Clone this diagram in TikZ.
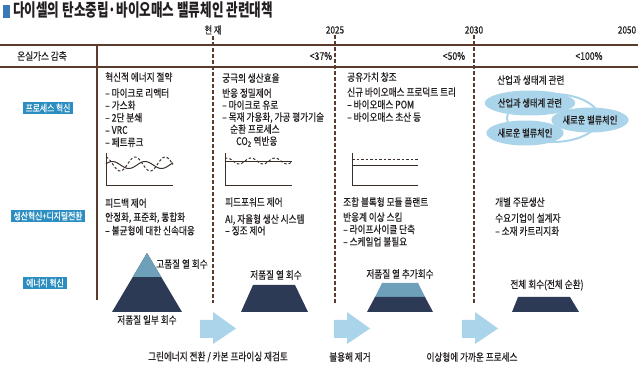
\documentclass[tikz,border=0pt]{standalone}
\usepackage{fontspec}
\setmainfont{Noto Sans CJK KR}[FakeStretch=0.82, FakeBold=0.5]
\newfontfamily\titlefont{Noto Sans CJK KR}[FakeStretch=0.72]
\usepackage{tikz}
\usetikzlibrary{shapes.geometric, positioning}
\definecolor{dsbrown}{HTML}{5A3B2C}
\definecolor{dsblue}{HTML}{2B8DC0}
\definecolor{dsmark}{HTML}{3B78B8}
\definecolor{dsnavy}{HTML}{2C3A56}
\definecolor{dssteel}{HTML}{6FA0BA}
\definecolor{dspale}{HTML}{A9D4E9}
\definecolor{dstext}{HTML}{231F20}
\definecolor{dsaxis}{HTML}{3B2F2A}

\begin{document}
\begin{tikzpicture}[
  x=1pt, y=-1pt,
  txt/.style={anchor=base west, inner sep=0pt, align=left, text=dstext,
              font=\fontsize{10.5}{12.5}\selectfont},
  lbl/.style={inner sep=0pt, text=dstext,
              font=\fontsize{10.5}{12.5}\selectfont},
  rowbox/.style={fill=dsblue, text=white, inner xsep=3pt, inner ysep=0pt,
                 minimum height=12pt, font=\fontsize{9.5}{11}\selectfont},
  yr/.style={inner sep=1.5pt, text=dstext, font=\fontsize{10}{12}\selectfont},
  yrline/.style={dsbrown, line width=1.3pt, dash pattern=on 3.5pt off 2.5pt},
  rule/.style={dsbrown, line width=1.6pt},
  axis/.style={dsaxis, line width=1pt},
  bubble/.style={ellipse, fill=dspale, minimum width=72pt, minimum height=25pt,
                 inner sep=0pt, text=dstext, font=\fontsize{10}{12}\selectfont},
  blkarr/.style={fill=dspale}
]
  \useasboundingbox (0,0) rectangle (638,374);

  \fill[dsmark] (3,5) rectangle (10,18);
  \node[anchor=base west, inner sep=0pt, text=dstext,
        font=\titlefont\fontsize{17.5}{19}\selectfont\bfseries] (title) at (13,17)
    {다이셀의 탄소중립·바이오매스 밸류체인 관련대책};

  \node[yr] (now) at (213,30) {현 재};
  \node[yr] (y25) at (335,30) {2025};
  \node[yr] (y30) at (474,30) {2030};
  \node[yr] (y50) at (627,30) {2050};

  \draw[rule] (0,45) -- (638,45);
  \draw[rule] (0,67) -- (638,67);
  \coordinate (colsep top) at (97,45);
  \coordinate (colsep end) at (97,300);
  \draw[rule] (colsep top) -- (colsep end);

  \foreach \yn/\xx in {now/213, y25/335, y30/474} {
    \coordinate (\yn end) at (\xx,303);
    \draw[yrline] (\yn.south) -- (\yn end);
  }

  \node[lbl] (ghg) at (42,56) {온실가스 감축};
  \node[lbl] (p37) at (321,56) {<37\%};
  \node[lbl] (p50) at (454,56) {<50\%};
  \node[lbl] (p100) at (589,56) {<100\%};

  \node[rowbox] (process) at (48,108) {프로세스 혁신};
  \node[rowbox] (digital) at (48,216) {생산혁신+디지털전환};
  \node[rowbox] (energy) at (45,283) {에너지 혁신};

  % process row
  \node[txt] (c1head) at (105,81) {혁신적 에너지 절약};
  \node[txt, font=\fontsize{10.5}{12.3}\selectfont] (c1list) at (105,146.2)
    {– 마이크로 리액터\\– 가스화\\– 2단 분쇄\\– VRC\\– 페트류크};
  \node[txt] (c2head) at (222,82) {궁극의 생산효율};
  \node[txt, font=\fontsize{10.5}{12}\selectfont] (c2list) at (222,145)
    {반응 정밀제어\\– 마이크로 유로\\– 목재 가용화, 가공 평가기술\\
     \hspace*{8pt}순환 프로세스\\\hspace*{14pt}CO\textsubscript{2} 역반응};
  \node[txt] (c3head) at (347,81) {공유가치 창조};
  \node[txt, font=\fontsize{10.5}{12.5}\selectfont] (c3list) at (347,121)
    {신규 바이오매스 프로덕트 트리\\– 바이오매스 POM\\– 바이오매스 초산 등};
  \node[txt] (c4head) at (497,84) {산업과 생태계 관련};

  \draw[dspale, line width=2pt] (553,118) ellipse [x radius=46pt, y radius=24pt];
  \node[bubble] (eco) at (530,103) {산업과 생태계 관련};
  \node[bubble] (chain a) at (590,120) {새로운 밸류체인};
  \node[bubble] (chain b) at (525,133) {새로운 밸류체인};

  % small graphs
  \draw[axis] (106,153) -- (106,186) -- (173,186);
  \draw[axis] plot[domain=106:173, samples=60, smooth]
    (\x, {165-3.5*sin(11*(\x-106)+20)});
  \draw[axis, dash pattern=on 2.5pt off 2pt] plot[domain=106:173, samples=60, smooth]
    (\x, {164-7*sin(12*(\x-106)+100)});
  \draw[axis] (225,153) -- (225,186) -- (292,186);
  \draw[axis] (225,162) -- (292,162);
  \draw[axis, dash pattern=on 2.5pt off 2pt] plot[domain=225:292, samples=50, smooth]
    (\x, {161-3*sin(15*(\x-225)+60)});
  \draw[axis] (352,153) -- (352,186) -- (418,186);
  \draw[axis] (352,166) -- (418,166);
  \draw[axis, dash pattern=on 2.5pt off 2pt] (352,160) -- (418,160);

  % digital row
  \node[txt] (c1ctl) at (105,207) {피드백 제어};
  \node[txt, font=\fontsize{10.5}{13.5}\selectfont] (c1dig) at (105,234.5)
    {안정화, 표준화, 통합화\\– 불균형에 대한 신속대응};
  \node[txt] (c2ctl) at (225,206) {피드포워드 제어};
  \node[txt, font=\fontsize{10.5}{11.5}\selectfont] (c2dig) at (225,234.5)
    {AI, 자율형 생산 시스템\\– 징조 제어};
  \node[txt] (c3ctl) at (343,206) {조합 블록형 모듈 플랜트};
  \node[txt, font=\fontsize{10.5}{12.3}\selectfont] (c3dig) at (343,245.6)
    {반응계 이상 스킴\\– 라이프사이클 단축\\– 스케일업 불필요};
  \node[txt] (c4ctl) at (495,206) {개별 주문생산};
  \node[txt, font=\fontsize{10.5}{13}\selectfont] (c4dig) at (495,235)
    {수요기업이 설계자\\– 소재 카트리지화};

  % energy row
  \fill[dsnavy] (147,253) -- (182,312) -- (112,312) -- cycle;
  \fill[dssteel] (147,253) -- (161.2,277) -- (132.8,277) -- cycle;
  \fill[dsnavy] (253,285) -- (295,285) -- (308,312) -- (241,312) -- cycle;
  \fill[dssteel] (382,283) -- (418,283) -- (425,297) -- (375,297) -- cycle;
  \fill[dsnavy] (375,297) -- (425,297) -- (433,312) -- (367,312) -- cycle;
  \fill[dsnavy] (518,297) -- (570,297) -- (579,312) -- (512,312) -- cycle;

  \node[lbl] (hiheat) at (182,264) {고품질 열 회수};
  \node[lbl] (lopart) at (147,320) {저품질 일부 회수};
  \node[lbl] (loheat) at (276,275) {저품질 열 회수};
  \node[lbl] (loplus) at (400,274) {저품질 열 추가회수};
  \node[lbl] (allrec) at (547,285) {전체 회수(전체 순환)};

  \foreach \xx in {200,334,462}
    \fill[blkarr] (\xx,320) -- ++(13,0) -- ++(0,-8) -- ++(23,16.5)
      -- ++(-23,15.5) -- ++(0,-6) -- ++(-13,0) -- cycle;

  \node[lbl] (green) at (218,357) {그린에너지 전환 / 카본 프라이싱 재검토};
  \node[lbl] (insol) at (350,357) {불용해 제거};
  \node[lbl] (ideal) at (472,357) {이상형에 가까운 프로세스};
\end{tikzpicture}
\end{document}
